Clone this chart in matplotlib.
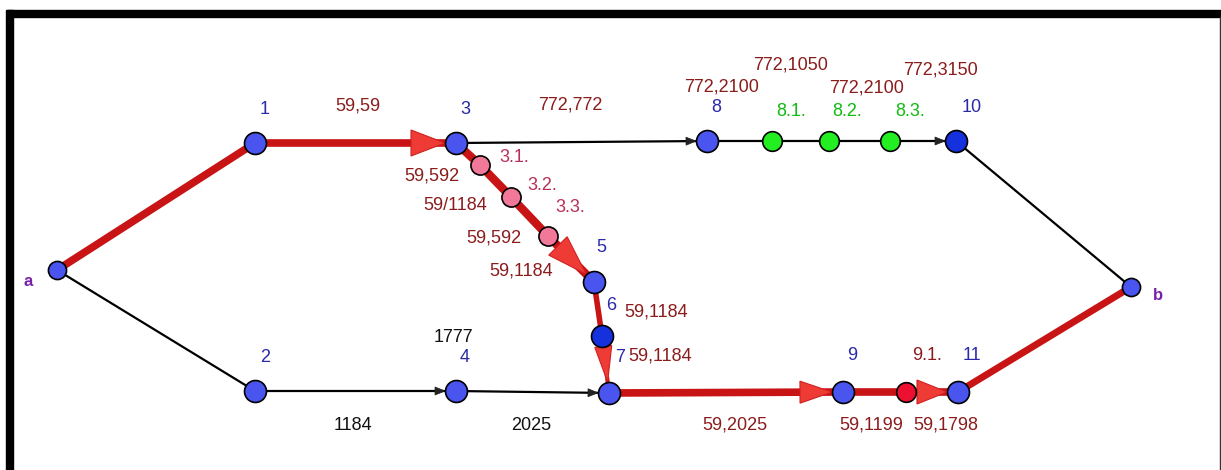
import numpy as np
import matplotlib.pyplot as plt
from matplotlib.patches import Polygon, Rectangle

plt.rcParams['font.family'] = ['Liberation Sans', 'DejaVu Sans']

# %% data: node positions (picture pixel space) and network

node_names = ['a', '1', '2', '3', '4', '3.1', '3.2', '3.3', '5', '6', '7',
              '8', '8.1', '8.2', '8.3', '10', '9', '9.1', '11', 'b']
node_x = [57, 255, 255, 456, 456, 480, 511, 548, 594, 602, 609,
          707, 772, 829, 890, 956, 843, 906, 958, 1131]
node_y = [270, 143, 391, 143, 391, 165, 197, 236, 282, 336, 393,
          141, 141, 141, 141, 141, 392, 392, 392, 287]
node_kind = ['end', 'main', 'main', 'main', 'main', 'pink', 'pink', 'pink', 'main', 'dark', 'main',
             'main', 'green', 'green', 'green', 'dark', 'main', 'red', 'main', 'end']

# critical path (red) and other arcs (black)
red_edges = [('a', '1'), ('1', '3'), ('3', '3.1'), ('3.1', '3.2'), ('3.2', '3.3'),
             ('3.3', '5'), ('5', '6'), ('6', '7'), ('7', '9'), ('9', '9.1'),
             ('9.1', '11'), ('11', 'b')]
red_widths = [5.5, 5.5, 6, 6, 6, 6, 4, 3, 5.5, 5.5, 5.5, 5]
black_edges = [('a', '2'), ('2', '4'), ('4', '7'), ('3', '8'), ('8', '8.1'),
               ('8.1', '8.2'), ('8.2', '8.3'), ('8.3', '10'), ('10', 'b')]

red_arrows = [('1', '3'), ('3.3', '5'), ('6', '7'), ('7', '9'), ('9.1', '11')]
red_arrow_len = [34, 40, 36, 32, 30]
red_arrow_wid = [26, 26, 17, 22, 24]
black_arrows = [('2', '4'), ('4', '7'), ('3', '8'), ('8.3', '10')]

# node number labels
num_labels = ['1', '2', '3', '4', '5', '6', '7', '8', '10', '9', '11']
num_pos = [(265, 110), (265, 357), (465, 110), (465, 357), (601, 248), (611, 305),
           (620, 358), (716, 108), (972, 108), (852, 356), (972, 356)]
sub_labels = ['3.1.', '3.2.', '3.3.', '8.1.', '8.2.', '8.3.', '9.1.']
sub_pos = [(514, 157), (542, 185), (570, 208), (791, 112), (847, 112), (910, 112), (927, 355)]
sub_colors = ['#b83058', '#b83058', '#b83058', '#11bb11', '#11bb11', '#11bb11', '#8b1c1c']

# arc values
red_vals = ['59,59', '772,772', '772,2100', '772,1050', '772,2100', '772,3150',
            '59,592', '59/1184', '59,592', '59,1184', '59,1184', '59,1184',
            '59,2025', '59,1199', '59,1798']
red_val_pos = [(358, 106), (570, 105), (722, 87), (791, 65), (867, 88), (941, 70),
               (432, 176), (455, 206), (494, 238), (521, 271), (656, 312), (660, 356),
               (735, 425), (871, 425), (946, 425)]
black_vals = ['1777', '1184', '2025']
black_val_pos = [(453, 337), (353, 425), (531, 425)]

# %% plot

pos = {n: (x, y) for n, x, y in zip(node_names, node_x, node_y)}

fig = plt.figure(figsize=(12.21, 4.70), dpi=100)
ax = fig.add_axes([0, 0, 1, 1])
ax.set_xlim(0, 1221)
ax.set_ylim(470, 0)
ax.axis('off')

# frame
ax.add_patch(Rectangle((7, 10), 1214, 7, color='black', zorder=1))
ax.add_patch(Rectangle((6, 10), 7, 460, color='black', zorder=1))
ax.plot([1220, 1220], [17, 470], color='#333333', lw=1)

for (s, t) in black_edges:
    ax.plot([pos[s][0], pos[t][0]], [pos[s][1], pos[t][1]], color='black', lw=1.6,
            solid_capstyle='round', zorder=2)

for (s, t), w in zip(red_edges, red_widths):
    ax.plot([pos[s][0], pos[t][0]], [pos[s][1], pos[t][1]], color='#c81414', lw=w,
            solid_capstyle='butt', zorder=3)


def head(s, t, length, width, r=11):
    x0, y0 = pos[s]
    x1, y1 = pos[t]
    d = np.array([x1 - x0, y1 - y0], dtype=float)
    d /= np.hypot(*d)
    nrm = np.array([-d[1], d[0]])
    tip = np.array([x1, y1]) - d * r
    base = tip - d * length
    return [tip, base + nrm * width / 2, base - nrm * width / 2]


for (s, t), L, W in zip(red_arrows, red_arrow_len, red_arrow_wid):
    ax.add_patch(Polygon(head(s, t, L, W), closed=True, fc='#ee3b36', ec='#d02020',
                         lw=0.8, zorder=4))

for (s, t) in black_arrows:
    ax.add_patch(Polygon(head(s, t, 10, 8), closed=True, fc='#222222', ec='#222222',
                         lw=0.5, zorder=4))

kind_style = {'main': ('#4a55f0', 250), 'dark': ('#1530dd', 250), 'end': ('#4a55f0', 170),
              'pink': ('#f2789a', 190), 'green': ('#22ee22', 200), 'red': ('#ee1030', 200)}
for n, x, y, k in zip(node_names, node_x, node_y, node_kind):
    c, s = kind_style[k]
    ax.scatter(x, y, s=s, c=c, edgecolors='black', linewidths=1.2, zorder=5)

ax.text(28, 282, 'a', color='#7a1fa8', fontsize=12, fontweight='bold', ha='center', va='center')
ax.text(1158, 295, 'b', color='#7a1fa8', fontsize=12, fontweight='bold', ha='center', va='center')

fs = 13
for lab, (x, y) in zip(num_labels, num_pos):
    ax.text(x, y, lab, color='#2a2aa8', fontsize=fs, ha='center', va='center')

for lab, (x, y), c in zip(sub_labels, sub_pos, sub_colors):
    ax.text(x, y, lab, color=c, fontsize=fs, ha='center', va='center')

for lab, (x, y) in zip(red_vals, red_val_pos):
    ax.text(x, y, lab, color='#8b1c1c', fontsize=fs, ha='center', va='center')

for lab, (x, y) in zip(black_vals, black_val_pos):
    ax.text(x, y, lab, color='#111111', fontsize=fs, ha='center', va='center')

fig.savefig('out.png', dpi=100)
